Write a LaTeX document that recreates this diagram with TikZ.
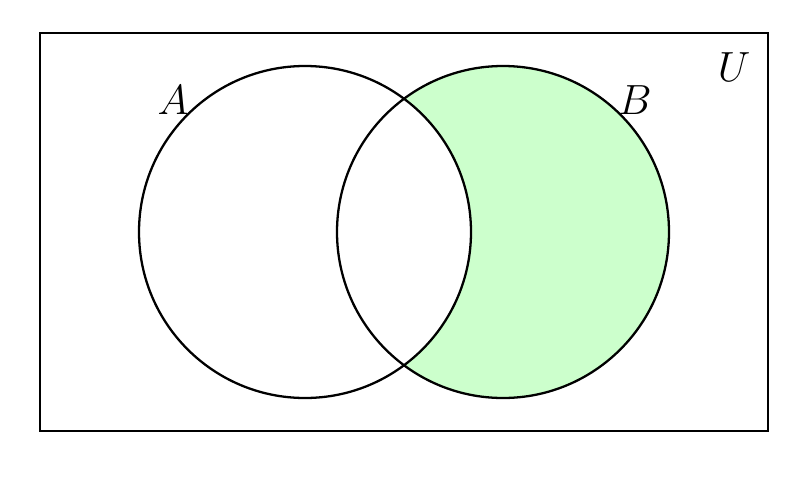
\documentclass[tikz,border=0pt]{standalone}
\usepackage{tikz}
\definecolor{bfill}{HTML}{CCFFCC}
\begin{document}
\begin{tikzpicture}[x=0.01cm,y=-0.01cm,
  setline/.style={draw=black,line width=0.65pt},
  setlabel/.style={inner sep=0pt,font=\fontsize{11.5}{13}\selectfont}]
\useasboundingbox (0,0) rectangle (800,500);
\coordinate (ca) at (305,232);
\coordinate (cb) at (503,232);
% fill B minus A
\begin{scope}[even odd rule]
  \clip (ca) circle[radius=166] (0,0) rectangle (800,500);
  \fill[bfill] (cb) circle[radius=166];
\end{scope}
\node[setline,rectangle,minimum width=7.28cm,minimum height=3.98cm,inner sep=0pt,outer sep=0pt] (u) at (404,232) {};
\draw[setline] (ca) circle[radius=166];
\draw[setline] (cb) circle[radius=166];
\node[setlabel] (la) at (173,100) {$A$};
\node[setlabel] (lb) at (635,100) {$B$};
\node[setlabel] (lu) at (734,67) {$U$};
\end{tikzpicture}
\end{document}
